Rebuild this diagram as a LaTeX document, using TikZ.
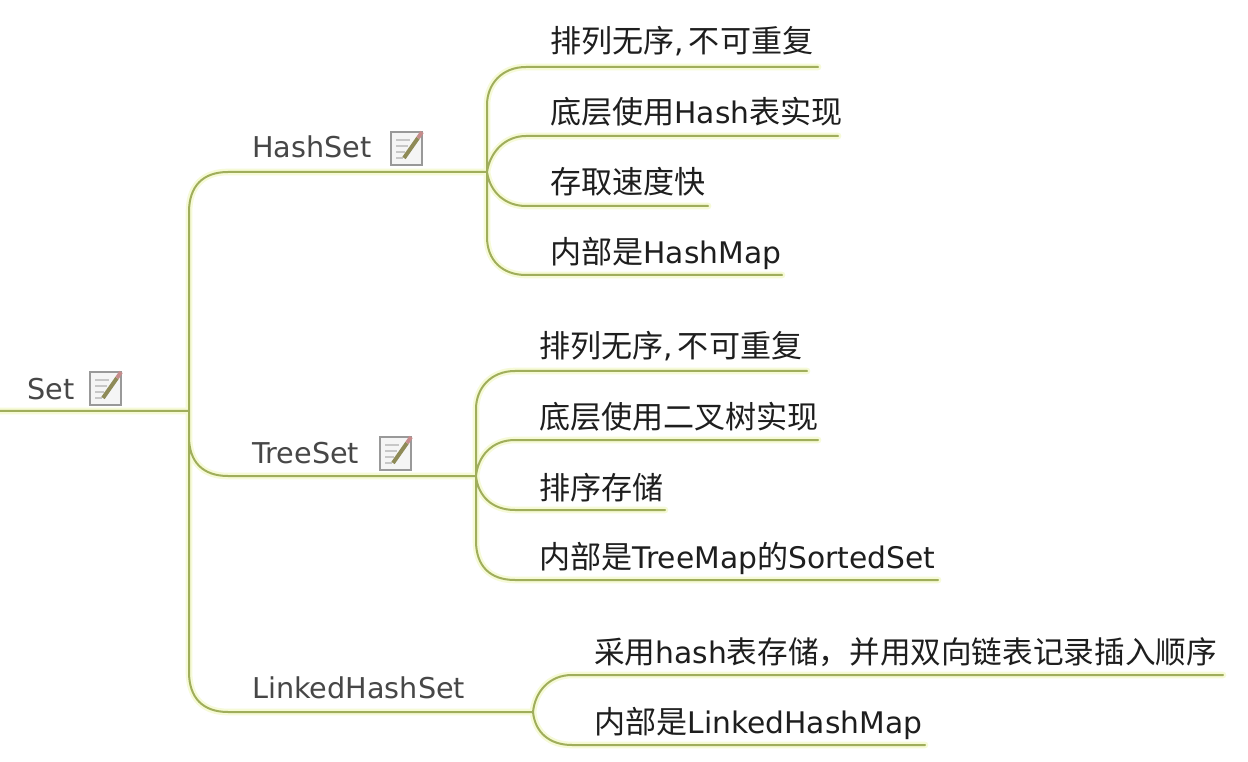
\documentclass[tikz,border=0pt]{standalone}
\usepackage{fontspec}
\setmainfont{DejaVu Sans}
\newfontfamily\cjk[Scale=1.045]{Noto Sans CJK SC}
\newfontfamily\cjkn[Scale=1.03]{Noto Sans CJK SC}
\newcommand{\zh}[1]{{\cjk #1}}
\newcommand{\zhn}[1]{{\cjkn #1}}
\definecolor{branch}{HTML}{A0AE5C}
\definecolor{glow}{HTML}{F6FAD6}
\definecolor{inkc}{HTML}{1E1E1E}
\tikzset{
  x=0.75pt,y=-0.75pt,
  lbl/.style={anchor=base west,inner sep=0pt,font=\fontsize{22.3}{24}\selectfont,text=inkc},
  topic/.style={anchor=base west,inner sep=0pt,font=\fontsize{21.5}{24}\selectfont,text=black!72},
  halo/.style={draw=glow,line width=5pt,line cap=round},
  wire/.style={draw=branch,line width=1.5pt,line cap=round},
  pics/noteicon/.style={code={
    \fill[black!4] (0,0) rectangle (31,33);
    \draw[black!40,line width=1.4pt] (0,0) rectangle (31,33);
    \draw[black!22,line width=1.6pt] (5,8)--(19,8) (5,14)--(17,14) (5,20)--(14,20) (5,26)--(12,26);
    \draw[olive!55!black!70,line width=3pt] (13,26)--(27,6);
    \draw[red!50!black!45,line width=3pt] (27,6)--(31,0);
  }}
}
\newcommand{\netpaths}{
  (st)--(j0)
  (hs)..controls ($(j0|-hs)+(14,0)$) and ($(j0|-hs)+(0,14)$)..($(j0|-hs)+(0,40)$)--($(j0|-ls)+(0,-40)$)
     ..controls ($(j0|-ls)+(0,-14)$) and ($(j0|-ls)+(14,0)$)..(ls)
  (ts)..controls ($(j0|-ts)+(14,0)$) and ($(j0|-ts)+(0,-14)$)..($(j0|-ts)+(0,-39)$)
  (hs)--(jh) (ts)--(jt) (ls)--(jl)
  (jh)--($(jh)+(0,-67)$)..controls ($(jh)+(0,-88)$) and ($(jh)+(15,-105)$)..(a1)--(a1e)
  (jh)..controls ($(jh)+(3,-20)$) and ($(jh)+(18,-36)$)..(a2)--(a2e)
  (jh)..controls ($(jh)+(3,20)$) and ($(jh)+(18,34)$)..(a3)--(a3e)
  (jh)--($(jh)+(0,65)$)..controls ($(jh)+(0,88)$) and ($(jh)+(15,103)$)..(a4)--(a4e)
  (jt)--($(jt)+(0,-67)$)..controls ($(jt)+(0,-88)$) and ($(jt)+(15,-105)$)..(b1)--(b1e)
  (jt)..controls ($(jt)+(2,-20)$) and ($(jt)+(16,-36)$)..(b2)--(b2e)
  (jt)..controls ($(jt)+(2,20)$) and ($(jt)+(16,34)$)..(b3)--(b3e)
  (jt)--($(jt)+(0,65)$)..controls ($(jt)+(0,90)$) and ($(jt)+(14,104)$)..(b4)--(b4e)
  (jl)..controls ($(jl)+(2,-20)$) and ($(jl)+(16,-37)$)..(c1)--(c1e)
  (jl)..controls ($(jl)+(2,20)$) and ($(jl)+(16,33)$)..(c2)--(c2e)
}
\usetikzlibrary{calc}
\begin{document}
\begin{tikzpicture}
\useasboundingbox (0,0) rectangle (1248,762);
\fill[white] (0,0) rectangle (1248,762);
% junctions and branch ends
\coordinate (st) at (0,411); \coordinate (j0) at (189,411);
\coordinate (hs) at (228,172); \coordinate (jh) at (487,172);
\coordinate (ts) at (228,476); \coordinate (jt) at (476,476);
\coordinate (ls) at (228,712); \coordinate (jl) at (533,712);
\coordinate (a1) at (526,67);  \coordinate (a1e) at (818,67);
\coordinate (a2) at (526,136); \coordinate (a2e) at (838,136);
\coordinate (a3) at (526,206); \coordinate (a3e) at (708,206);
\coordinate (a4) at (526,275); \coordinate (a4e) at (782,275);
\coordinate (b1) at (515,371); \coordinate (b1e) at (807,371);
\coordinate (b2) at (515,440); \coordinate (b2e) at (818,440);
\coordinate (b3) at (515,510); \coordinate (b3e) at (665,510);
\coordinate (b4) at (515,580); \coordinate (b4e) at (938,580);
\coordinate (c1) at (572,675); \coordinate (c1e) at (1223,675);
\coordinate (c2) at (572,745); \coordinate (c2e) at (925,745);
\draw[halo] \netpaths;
\draw[wire] \netpaths;
% topics
\node[topic] (nset) at (27,400) {Set};
\node[topic] (nhash) at (252,158) {HashSet};
\node[topic] (ntree) at (252,463) {TreeSet};
\node[topic] (nlink) at (252,698) {LinkedHashSet};
\pic at (90,372) {noteicon};
\pic at (391,132) {noteicon};
\pic at (380,437) {noteicon};
% leaves
\node[lbl] (t1) at (550,53) {\zh{排列无序},\,\zh{不可重复}};
\node[lbl] (t2) at (550,124) {\zh{底层使用}Hash\zh{表实现}};
\node[lbl] (t3) at (550,194) {\zh{存取速度快}};
\node[lbl] (t4) at (550,264) {\zh{内部是}HashMap};
\node[lbl] (u1) at (539,358) {\zh{排列无序},\,\zh{不可重复}};
\node[lbl] (u2) at (539,428) {\zh{底层使用二叉树实现}};
\node[lbl] (u3) at (539,499) {\zh{排序存储}};
\node[lbl] (u4) at (539,568) {\zh{内部是}TreeMap\zh{的}SortedSet};
\node[lbl] (v1) at (594,663) {\zhn{采用}hash\zhn{表存储，并用双向链表记录插入顺序}};
\node[lbl] (v2) at (594,733) {\zh{内部是}LinkedHashMap};
\end{tikzpicture}
\end{document}
